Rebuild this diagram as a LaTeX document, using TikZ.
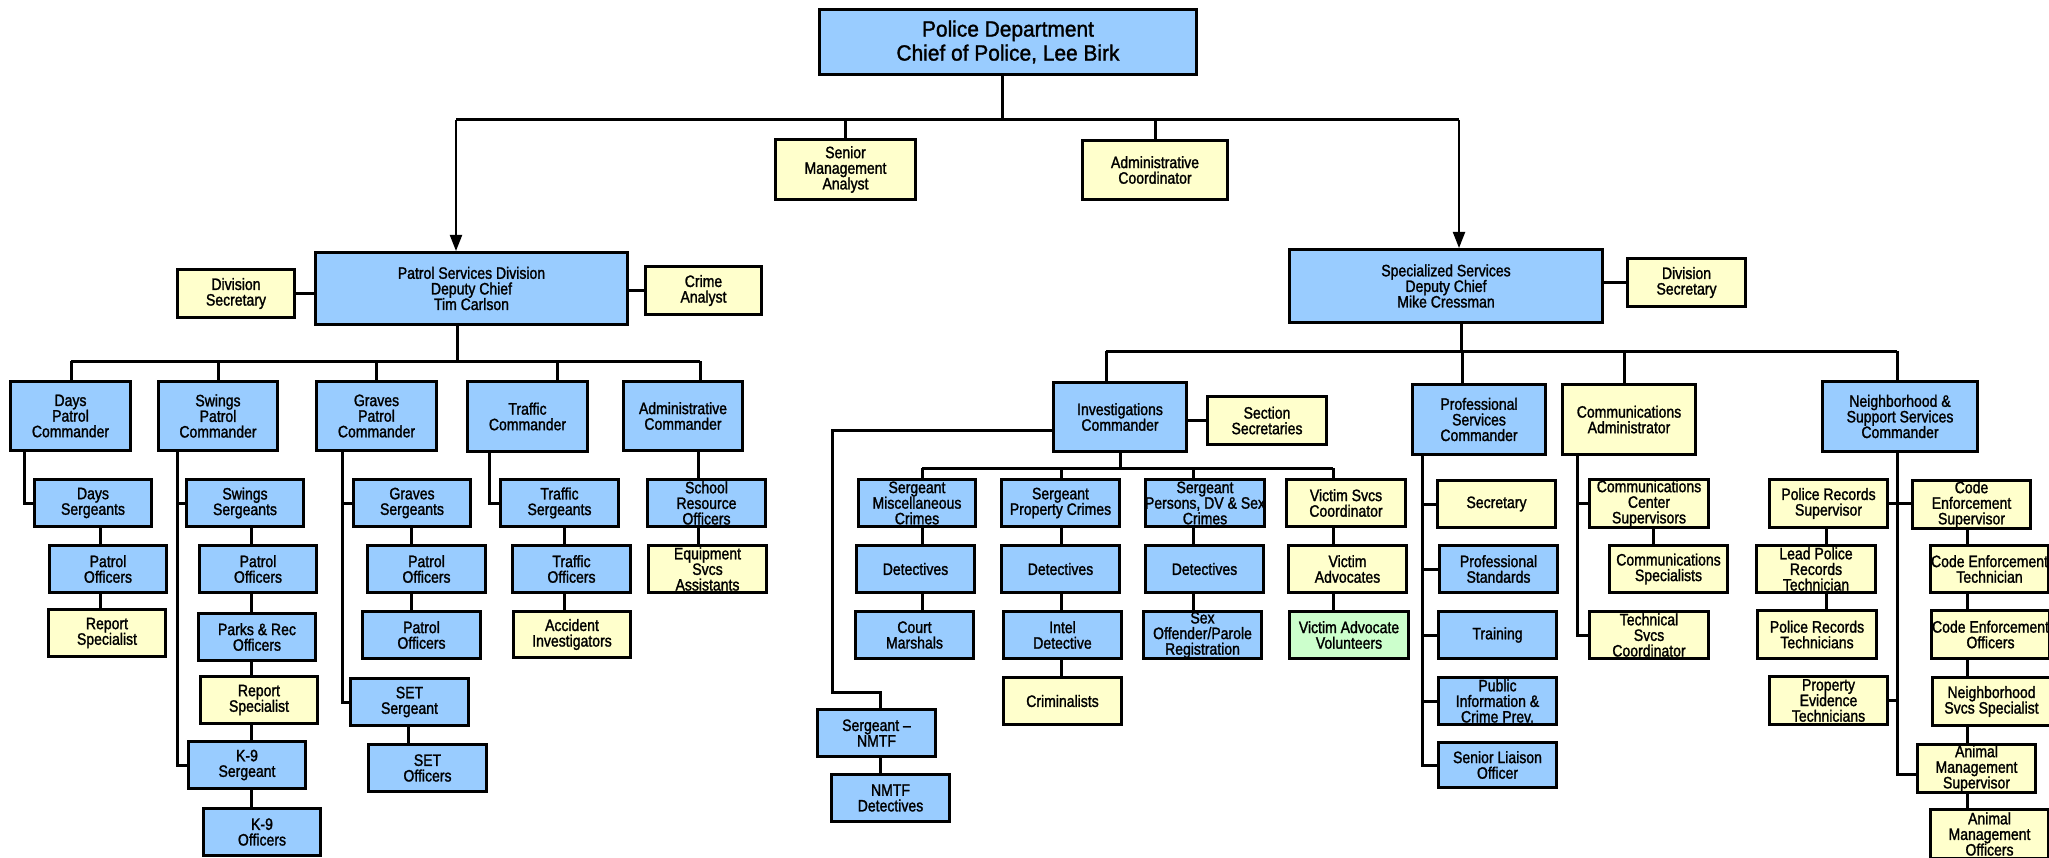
\documentclass[tikz,border=0pt]{standalone}
\usepackage{fontspec}
\setmainfont{Liberation Sans}[FakeStretch=0.85, FakeBold=1.5]
\newfontfamily\chieffont{Liberation Sans}[FakeStretch=0.95, FakeBold=1.5]
\usetikzlibrary{arrows.meta}
\definecolor{boxblue}{HTML}{99CCFF}
\definecolor{boxyellow}{HTML}{FFFFCC}
\definecolor{boxgreen}{HTML}{CCFFCC}
\pgfdeclarelayer{bg}
\pgfsetlayers{bg,main}
\tikzset{
  bbox/.style={draw=black, line width=3pt, fill=boxblue, inner sep=0pt},
  ybox/.style={draw=black, line width=3pt, fill=boxyellow, inner sep=0pt},
  gbox/.style={draw=black, line width=3pt, fill=boxgreen, inner sep=0pt},
  txt/.style={inner sep=0pt, align=center, text=black, font=\fontsize{16.5}{15.6}\selectfont},
  conn/.style={line width=3pt, draw=black},
  tconn/.style={line width=3pt, draw=black},
  arr/.style={line width=2pt, draw=black, -{Triangle[length=16pt,width=12pt]}},
}
\newcommand\orgbx[8][]{%
  \pgfmathsetmacro\obw{#5-#3-3}%
  \pgfmathsetmacro\obh{#6-#4-3}%
  \pgfmathsetmacro\obx{(#3+#5)/2}%
  \pgfmathsetmacro\oby{(#4+#6)/2}%
  \node[#7, minimum width=\obw pt, minimum height=\obh pt] (#2) at (\obx,\oby) {};
  \node[txt,#1] (#2-t) at (#2.center) {#8};
}
\begin{document}
\begin{tikzpicture}[x=1pt,y=-1pt]
\useasboundingbox (0,0) rectangle (2049,858);
% ---------- top ----------
\orgbx[font=\chieffont\fontsize{22}{24}\selectfont]{chief}{818}{8}{1198}{76}{bbox}{Police Department\\Chief of Police, Lee Birk}
\orgbx{sma}{774}{138}{917}{201}{ybox}{Senior\\Management\\Analyst}
\orgbx{adc}{1081}{139}{1229}{201}{ybox}{Administrative\\Coordinator}
\orgbx{psd}{314}{251}{629}{326}{bbox}{Patrol Services Division\\Deputy Chief\\Tim Carlson}
\orgbx{dsl}{176}{268}{296}{319}{ybox}{Division\\Secretary}
\orgbx{cra}{644}{265}{763}{316}{ybox}{Crime\\Analyst}
\orgbx{ssd}{1288}{248}{1604}{324}{bbox}{Specialized Services\\Deputy Chief\\Mike Cressman}
\orgbx{dsr}{1626}{257}{1747}{308}{ybox}{Division\\Secretary}
% ---------- patrol ----------
\orgbx{dpc}{9}{380}{132}{452}{bbox}{Days\\Patrol\\Commander}
\orgbx{spc}{157}{380}{279}{452}{bbox}{Swings\\Patrol\\Commander}
\orgbx{gpc}{315}{380}{438}{452}{bbox}{Graves\\Patrol\\Commander}
\orgbx{tc}{466}{380}{589}{453}{bbox}{Traffic\\Commander}
\orgbx{ac}{622}{380}{744}{452}{bbox}{Administrative\\Commander}
\orgbx{ds}{33}{478}{153}{528}{bbox}{Days\\Sergeants}
\orgbx{ss}{185}{478}{305}{528}{bbox}{Swings\\Sergeants}
\orgbx{gs}{352}{478}{472}{528}{bbox}{Graves\\Sergeants}
\orgbx{ts}{499}{478}{620}{528}{bbox}{Traffic\\Sergeants}
\orgbx{sro}{646}{478}{767}{528}{bbox}{School\\Resource\\Officers}
\orgbx{poa}{48}{544}{168}{594}{bbox}{Patrol\\Officers}
\orgbx{pob}{198}{544}{318}{594}{bbox}{Patrol\\Officers}
\orgbx{poc}{366}{544}{487}{594}{bbox}{Patrol\\Officers}
\orgbx{tof}{511}{544}{632}{594}{bbox}{Traffic\\Officers}
\orgbx{esa}{647}{544}{768}{594}{ybox}{Equipment\\Svcs\\Assistants}
\orgbx{rsa}{47}{608}{167}{658}{ybox}{Report\\Specialist}
\orgbx{prec}{197}{612}{317}{662}{bbox}{Parks \& Rec\\Officers}
\orgbx{pod}{361}{610}{482}{660}{bbox}{Patrol\\Officers}
\orgbx{aci}{512}{610}{632}{659}{ybox}{Accident\\Investigators}
\orgbx{rsb}{199}{675}{319}{725}{ybox}{Report\\Specialist}
\orgbx{setsg}{349}{677}{470}{727}{bbox}{SET\\Sergeant}
\orgbx{k9s}{187}{740}{307}{790}{bbox}{K-9\\Sergeant}
\orgbx{seto}{367}{743}{488}{793}{bbox}{SET\\Officers}
\orgbx{k9o}{202}{807}{322}{857}{bbox}{K-9\\Officers}
% ---------- investigations ----------
\orgbx{ic}{1052}{381}{1188}{453}{bbox}{Investigations\\Commander}
\orgbx{secs}{1206}{395}{1328}{446}{ybox}{Section\\Secretaries}
\orgbx{smc}{857}{478}{977}{528}{bbox}{Sergeant\\Miscellaneous\\Crimes}
\orgbx{spr}{1000}{478}{1121}{528}{bbox}{Sergeant\\Property Crimes}
\orgbx{spe}{1144}{478}{1266}{528}{bbox}{Sergeant\\Persons, DV \& Sex\\Crimes}
\orgbx{vsc}{1285}{478}{1407}{528}{ybox}{Victim Svcs\\Coordinator}
\orgbx{deta}{855}{544}{976}{594}{bbox}{Detectives}
\orgbx{detb}{1000}{544}{1121}{594}{bbox}{Detectives}
\orgbx{detc}{1144}{544}{1265}{594}{bbox}{Detectives}
\orgbx{vad}{1287}{544}{1408}{594}{ybox}{Victim\\Advocates}
\orgbx{cms}{854}{610}{975}{660}{bbox}{Court\\Marshals}
\orgbx{intel}{1002}{610}{1123}{660}{bbox}{Intel\\Detective}
\orgbx{sexo}{1142}{610}{1263}{660}{bbox}{Sex\\Offender/Parole\\Registration}
\orgbx{vav}{1288}{610}{1410}{660}{gbox}{Victim Advocate\\Volunteers}
\orgbx{crim}{1002}{676}{1123}{726}{ybox}{Criminalists}
\orgbx{snm}{816}{708}{937}{758}{bbox}{Sergeant –\\NMTF}
\orgbx{nmd}{830}{773}{951}{823}{bbox}{NMTF\\Detectives}
% ---------- professional ----------
\orgbx{psc}{1411}{383}{1547}{456}{bbox}{Professional\\Services\\Commander}
\orgbx{sec}{1436}{479}{1557}{529}{ybox}{Secretary}
\orgbx{pst}{1438}{544}{1559}{594}{bbox}{Professional\\Standards}
\orgbx{trn}{1437}{610}{1558}{660}{bbox}{Training}
\orgbx{pub}{1437}{676}{1558}{726}{bbox}{Public\\Information \&\\Crime Prev.}
\orgbx{sli}{1437}{741}{1558}{789}{bbox}{Senior Liaison\\Officer}
% ---------- communications ----------
\orgbx{cad}{1561}{383}{1697}{456}{ybox}{Communications\\Administrator}
\orgbx{ccs}{1588}{478}{1710}{529}{ybox}{Communications\\Center\\Supervisors}
\orgbx{csp}{1608}{544}{1729}{594}{ybox}{Communications\\Specialists}
\orgbx{tsc}{1588}{610}{1710}{660}{ybox}{Technical\\Svcs\\Coordinator}
% ---------- neighborhood ----------
\orgbx{nss}{1821}{380}{1979}{453}{bbox}{Neighborhood \&\\Support Services\\Commander}
\orgbx{prs}{1768}{478}{1889}{529}{ybox}{Police Records\\Supervisor}
\orgbx{ces}{1911}{479}{2032}{530}{ybox}{Code\\Enforcement\\Supervisor}
\orgbx{lprt}{1755}{544}{1877}{594}{ybox}{Lead Police\\Records\\Technician}
\orgbx{prt}{1756}{609}{1878}{660}{ybox}{Police Records\\Technicians}
\orgbx{pet}{1768}{675}{1889}{726}{ybox}{Property\\Evidence\\Technicians}
\orgbx{cet}{1929}{544}{2050}{594}{ybox}{Code Enforcement\\Technician}
\orgbx{ceo}{1930}{609}{2051}{660}{ybox}{Code Enforcement\\Officers}
\orgbx{nsvc}{1931}{676}{2052}{727}{ybox}{Neighborhood\\Svcs Specialist}
\orgbx{ams}{1916}{743}{2037}{794}{ybox}{Animal\\Management\\Supervisor}
\orgbx{amo}{1929}{808}{2050}{860}{ybox}{Animal\\Management\\Officers}

\begin{pgfonlayer}{bg}
\fill[white] (0,0) rectangle (2049,858);
% coordinates
\coordinate (tbl) at (456,120); \coordinate (tbr) at (1459,120);
\coordinate (tcd) at (1002,120);
\coordinate (pbl) at (71,361); \coordinate (pbr) at (700,361);
\coordinate (pdr) at (457,361); \coordinate (ptc) at (557,361);
\coordinate (kD) at (24,0); \coordinate (cD) at (100,0);
\coordinate (kS) at (177,0); \coordinate (cS) at (251,0);
\coordinate (kG) at (342,0); \coordinate (cG) at (411,0); \coordinate (cSet) at (408,0);
\coordinate (kT) at (489,0); \coordinate (cT) at (564,0);
\coordinate (cA) at (698,0);
\coordinate (sbl) at (1106,351); \coordinate (sbr) at (1897,351);
\coordinate (sdr) at (1461,351); \coordinate (spd) at (1462,351); \coordinate (scd) at (1624,351);
\coordinate (ilA) at (832,430); \coordinate (ilB) at (832,692); \coordinate (ilC) at (880,692);
\coordinate (ibl) at (922,468); \coordinate (ibr) at (1333,468);
\coordinate (cPr) at (1061,468); \coordinate (cPe) at (1193,468);
\coordinate (kP) at (1422,0); \coordinate (kC) at (1577,0); \coordinate (cCs) at (1653,0);
\coordinate (nEnd) at (1897,774); \coordinate (cPR) at (1826,0); \coordinate (cCE) at (1967,0);
% top
\draw[tconn] (tcd |- chief.south) -- (tcd);
\draw[tconn] (tbl) -- (tbr);
\draw[arr] (tbl) -- (tbl |- psd.north);
\draw[arr] (tbr) -- (tbr |- ssd.north);
\draw[tconn] (sma.north) -- (sma.north |- tbl);
\draw[tconn] (adc.north) -- (adc.north |- tbl);
\draw[conn] (dsl.east) -- (dsl.east -| psd.west);
\draw[conn] (psd.east |- cra.west) -- (cra.west);
\draw[conn] (ssd.east |- dsr.west) -- (dsr.west);
% patrol
\draw[conn] (pdr |- psd.south) -- (pdr);
\draw[conn] (pbl) -- (pbr);
\draw[conn] (pbl) -- (pbl |- dpc.north);
\draw[conn] (spc.north) -- (spc.north |- pbl);
\draw[conn] (gpc.north) -- (gpc.north |- pbl);
\draw[conn] (ptc) -- (ptc |- tc.north);
\draw[conn] (pbr) -- (pbr |- ac.north);
\draw[conn] (kD |- dpc.south) |- (ds.west);
\draw[conn] (cD |- ds.south) -- (cD |- rsa.north);
\draw[conn] (kS |- spc.south) |- (k9s.west);
\draw[conn] (kS |- ss.west) -- (ss.west);
\draw[conn] (cS |- ss.south) -- (cS |- k9o.north);
\draw[conn] (kG |- gpc.south) |- (setsg.west);
\draw[conn] (kG |- gs.west) -- (gs.west);
\draw[conn] (cG |- gs.south) -- (cG |- pod.north);
\draw[conn] (cSet |- setsg.south) -- (cSet |- seto.north);
\draw[conn] (kT |- tc.south) |- (ts.west);
\draw[conn] (cT |- ts.south) -- (cT |- aci.north);
\draw[conn] (cA |- ac.south) -- (cA |- esa.north);
% specialized
\draw[conn] (sdr |- ssd.south) -- (sdr);
\draw[conn] (sbl) -- (sbr);
\draw[conn] (sbl) -- (sbl |- ic.north);
\draw[conn] (spd) -- (spd |- psc.north);
\draw[conn] (scd) -- (scd |- cad.north);
\draw[conn] (sbr) -- (sbr |- nss.north);
% investigations
\draw[conn] (ic.east |- secs.west) -- (secs.west);
\draw[conn] (ilA -| ic.west) -- (ilA) -- (ilB) -- (ilC) -- (ilC |- snm.north);
\draw[conn] (ilC |- snm.south) -- (ilC |- nmd.north);
\draw[conn] (ic.south) -- (ic.south |- ibl);
\draw[conn] (ibl) -- (ibr);
\draw[conn] (ibl) -- (ibl |- cms.north);
\draw[conn] (cPr) -- (cPr |- crim.north);
\draw[conn] (cPe) -- (cPe |- sexo.north);
\draw[conn] (ibr) -- (ibr |- vav.north);
% professional
\draw[conn] (kP |- psc.south) |- (sli.west);
\foreach \n in {sec,pst,trn,pub} \draw[conn] (kP |- \n.west) -- (\n.west);
% communications
\draw[conn] (kC |- cad.south) |- (tsc.west);
\draw[conn] (kC |- ccs.west) -- (ccs.west);
\draw[conn] (cCs |- ccs.south) -- (cCs |- csp.north);
% neighborhood
\draw[conn] (sbr |- nss.south) -- (nEnd) -- (nEnd -| ams.west);
\draw[conn] (prs.east) -- (prs.east -| ces.west);
\draw[conn] (pet.east) -- (pet.east -| nEnd);
\draw[conn] (cPR |- prs.south) -- (cPR |- prt.north);
\draw[conn] (cCE |- ces.south) -- (cCE |- amo.north);
\end{pgfonlayer}
\end{tikzpicture}
\end{document}
